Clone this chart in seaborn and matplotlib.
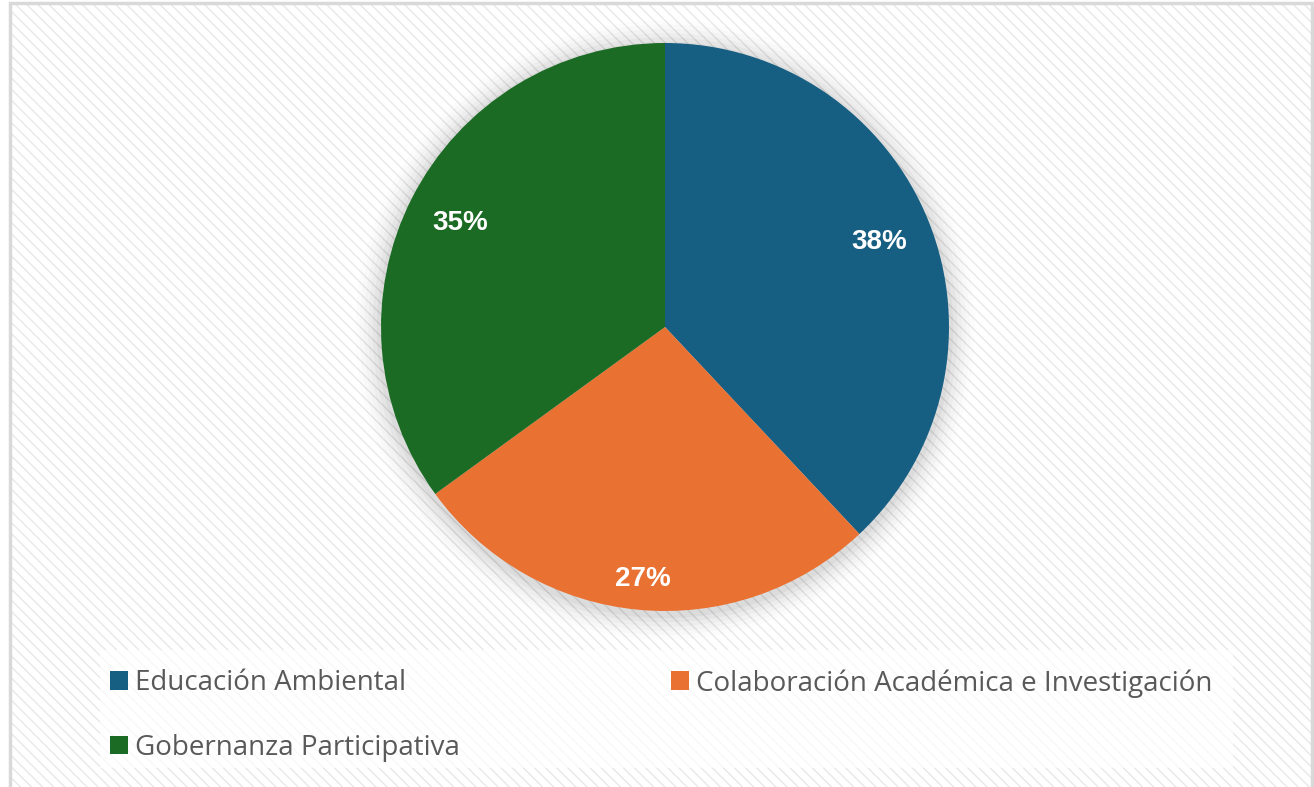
import matplotlib.pyplot as plt
import matplotlib.patches as mpatches
import seaborn as sns

categories = ['Educación Ambiental', 'Colaboración Académica e Investigación', 'Gobernanza Participativa']
shares = [38, 27, 35]
colors = ['#175f82', '#e97132', '#1b6b24']

sns.set_style('white')
plt.rcParams['font.family'] = ['Open Sans', 'DejaVu Sans']

fig = plt.figure(figsize=(13.14, 7.87), dpi=100)
fig.patch.set_facecolor('white')

# hatched chart-area background with a light grey border
bg = mpatches.Rectangle((10 / 1314, 0), 1302 / 1314, 784 / 787, transform=fig.transFigure,
                        facecolor='white', edgecolor='#e8e8e8', hatch='\\\\\\', linewidth=0, zorder=0)
fig.patches.append(bg)
frame = mpatches.Rectangle((10 / 1314, -0.01), 1302 / 1314, 784 / 787 + 0.01, transform=fig.transFigure,
                           facecolor='none', edgecolor='#d9d9d9', linewidth=2.5, zorder=1)
fig.patches.append(frame)

# legend box
box = mpatches.Rectangle((100 / 1314, 1 - 768 / 787), 1133 / 1314, 118 / 787, transform=fig.transFigure,
                         facecolor='white', alpha=0.7, edgecolor='none', zorder=1)
fig.patches.append(box)

# pie axes
r = 284
cx, cy = 665, 327
ax = fig.add_axes([(cx - r) / 1314, 1 - (cy + r) / 787, 2 * r / 1314, 2 * r / 787])
ax.set_zorder(5)
ax.set_facecolor('none')

# soft shadow behind the pie
for i, a in enumerate([0.035, 0.03, 0.025, 0.02, 0.015, 0.01]):
    ax.add_patch(mpatches.Circle((0.0, -0.01), 1.0 + 0.015 * (i + 1), color='black', alpha=a,
                                 linewidth=0, zorder=0, clip_on=False))

wedges, texts, autotexts = ax.pie(
    shares, colors=colors, startangle=90, counterclock=False,
    autopct='%.0f%%', pctdistance=0.81,
    wedgeprops=dict(linewidth=0),
    textprops=dict(color='white', fontsize=20, fontweight='bold', family=['Liberation Sans', 'DejaVu Sans']),
)
autotexts[1].set_position((autotexts[1].get_position()[0], autotexts[1].get_position()[1] * 1.1))
for w in wedges:
    w.set_zorder(2)
ax.set_xlim(-1, 1)
ax.set_ylim(-1, 1)
ax.set_aspect('equal')
ax.axis('off')

# legend fills columns first, so reorder to get row-wise layout
order = [0, 2, 1]
handles = [mpatches.Patch(facecolor=colors[i], edgecolor='none') for i in order]
labels = [categories[i] for i in order]
leg = fig.legend(handles, labels, ncol=2, loc='upper left',
                 bbox_to_anchor=(85 / 1314, 1 - 644 / 787), frameon=False,
                 fontsize=20, handlelength=0.65, handleheight=0.65, handletextpad=0.25,
                 columnspacing=7.6, labelspacing=1.3, labelcolor='#595959')
leg.set_zorder(6)

fig.savefig('out.png', dpi=100)
